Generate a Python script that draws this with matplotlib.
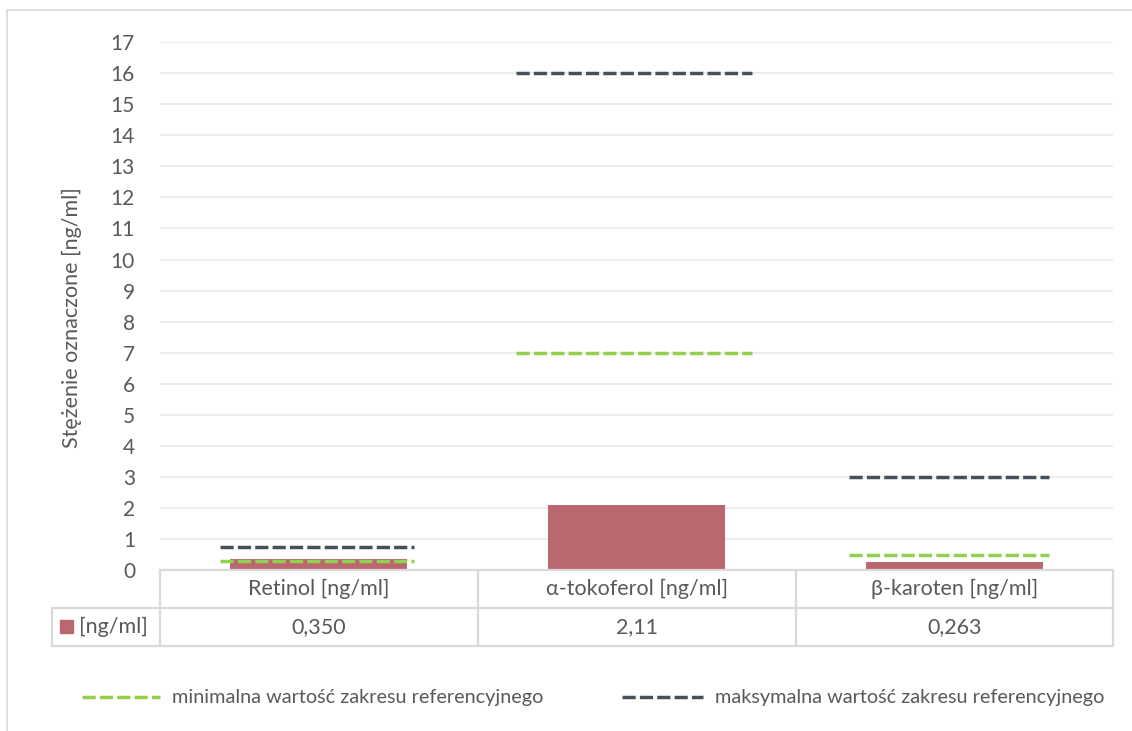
import matplotlib.pyplot as plt
from matplotlib.lines import Line2D
from matplotlib.patches import Rectangle

categories = ['Retinol [ng/ml]', 'α-tokoferol [ng/ml]', 'β-karoten [ng/ml]']
measured = [0.350, 2.11, 0.263]
measured_txt = ['0,350', '2,11', '0,263']
ref_min = [0.3, 7.0, 0.5]
ref_max = [0.75, 16.0, 3.0]
series_name = '[ng/ml]'
min_name = 'minimalna wartość zakresu referencyjnego'
max_name = 'maksymalna wartość zakresu referencyjnego'
ylabel = 'Stężenie oznaczone [ng/ml]'
yticks = list(range(0, 18))

# how far the reference lines reach left/right of each category centre
span_left = [0.31, 0.38, 0.33]
span_right = [0.30, 0.365, 0.30]

W, H = 1132, 731
bar_col = '#ba6770'
min_col = '#92d050'
max_col = '#44505e'
grid_col = '#ececec'
border_col = '#d9d9d9'
txt_col = '#595959'
dash = (3.8, 1.2)
fs = 15.5

plt.rcParams['font.family'] = ['Lato', 'DejaVu Sans']

fig = plt.figure(figsize=(W / 100, H / 100), dpi=100)


def fx(x):
    return x / W


def fy(y):
    return 1 - y / H


# chart area frame (cut off on the right and bottom)
fig.patches.append(Rectangle((fx(7), fy(760)), fx(1140) - fx(7), fy(10) - fy(760),
                             transform=fig.transFigure, fill=False,
                             edgecolor=border_col, lw=1.2))

ax = fig.add_axes([fx(160), fy(570.3), fx(1113) - fx(160), fy(42) - fy(570.3)])
x = list(range(len(categories)))
ax.bar(x, measured, width=0.557, color=bar_col, zorder=2)
for i in x:
    ax.plot([i - span_left[i], i + span_right[i]], [ref_min[i]] * 2, color=min_col,
            lw=2.5, dashes=dash, zorder=3)
    ax.plot([i - span_left[i], i + span_right[i]], [ref_max[i]] * 2, color=max_col,
            lw=2.5, dashes=dash, zorder=3)

ax.set_xlim(-0.5, 2.5)
ax.set_ylim(0, 17)
ax.set_yticks(yticks)
ax.set_xticks([])
ax.yaxis.grid(True, color=grid_col, lw=1.3)
ax.set_axisbelow(True)
for s in ax.spines.values():
    s.set_visible(False)
ax.tick_params(axis='y', length=0, pad=18, labelsize=15, labelcolor=txt_col)
fig.text(fx(72), fy(318), ylabel, rotation=90, ha='center', va='center',
         fontsize=fs, color=txt_col)

# data table under the plot
col_x = [160, 478, 796, 1113]
row_y = [570.3, 607.7, 645.7]


def hline(x0, x1, y):
    fig.add_artist(Line2D([fx(x0), fx(x1)], [fy(y), fy(y)], color=border_col, lw=1.6))


def vline(x0, y0, y1):
    fig.add_artist(Line2D([fx(x0), fx(x0)], [fy(y0), fy(y1)], color=border_col, lw=1.6))


hline(160, 1113, row_y[0])
hline(52, 1113, row_y[1])
hline(52, 1113, row_y[2])
for cx in col_x:
    vline(cx, row_y[0], row_y[2])
vline(52, row_y[1], row_y[2])

for i, name in enumerate(categories):
    cx = (col_x[i] + col_x[i + 1]) / 2
    fig.text(fx(cx), fy(589), name, ha='center', va='center', fontsize=fs, color=txt_col)
    fig.text(fx(cx), fy(627), measured_txt[i], ha='center', va='center', fontsize=fs,
             color=txt_col)

fig.patches.append(Rectangle((fx(60), fy(633)), fx(13), fx(13) * W / H,
                             transform=fig.transFigure, color=bar_col))
fig.text(fx(79), fy(627), series_name, ha='left', va='center', fontsize=fs, color=txt_col)

# legend for the reference lines
leg = [(82, 160, min_col, min_name), (622, 703, max_col, max_name)]
for x0, x1, c, name in leg:
    fig.add_artist(Line2D([fx(x0), fx(x1)], [fy(697), fy(697)], color=c, lw=2.5,
                          dashes=dash))
    fig.text(fx(x1 + 12), fy(697), name, ha='left', va='center', fontsize=14.3,
             color=txt_col)

fig.savefig('out.png', dpi=100)
